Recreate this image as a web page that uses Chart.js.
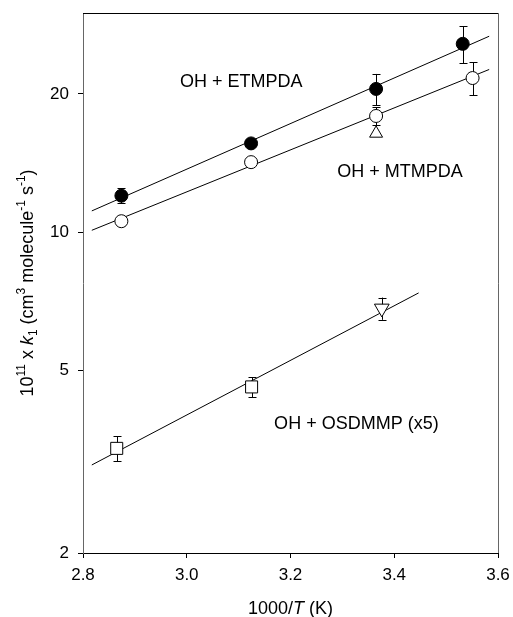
<!DOCTYPE html>
<html>
<head>
<meta charset="utf-8">
<script src="https://cdn.jsdelivr.net/npm/chart.js@4/dist/chart.umd.min.js"></script>
<style>
  html, body { margin: 0; padding: 0; background: #fff; }
  #wrap { width: 513px; height: 617px; }
</style>
</head>
<body>
<div id="wrap"><canvas id="c" width="513" height="617"></canvas></div>
<script>
// ---- Data ----
const xTicks = [2.8, 3.0, 3.2, 3.4, 3.6];
const yTicks = [2, 5, 10, 20];

// OH + ETMPDA (filled circles)
const etX = [2.874, 3.124, 3.365, 3.532];
const etY = [12.0, 15.6, 20.5, 25.7];
const etErr = [0.45, 0, 1.6, 2.4];
const etFitX = [2.817, 3.583];
const etFitY = [11.12, 26.7];

// OH + MTMPDA (open circles + open up-triangle)
const mtX = [2.874, 3.124, 3.365, 3.551];
const mtY = [10.56, 14.2, 17.9, 21.65];
const mtErr = [0, 0, 0.8, 1.8];
const mtTriX = [3.365];
const mtTriY = [16.4];
const mtFitX = [2.817, 3.583];
const mtFitY = [10.09, 22.6];

// OH + OSDMMP (x5) (open squares + open down-triangle)
const osX = [2.865, 3.125];
const osY = [3.38, 4.60];
const osErr = [0.21, 0.23];
const osTriX = [3.376];
const osTriY = [6.82];
const osTriErr = [0.38];
const osFitX = [2.817, 3.447];
const osFitY = [3.11, 7.37];

// Labels
const labelTexts = ['OH + ETMPDA', 'OH + MTMPDA', 'OH + OSDMMP (x5)'];
const labelX = [3.105, 3.411, 3.327];
const labelY = [21.2, 13.5, 3.82];

// ---- helpers ----
const FONT = '"Liberation Sans", Arial, Helvetica, sans-serif';
const pts = (xs, ys) => xs.map((x, i) => ({ x: x, y: ys[i] }));

const errorBars = [
  { xs: etX, ys: etY, err: etErr },
  { xs: mtX, ys: mtY, err: mtErr },
  { xs: osX, ys: osY, err: osErr },
  { xs: osTriX, ys: osTriY, err: osTriErr }
];

const errorBarPlugin = {
  id: 'errorBars',
  beforeDatasetsDraw(chart) {
    const { ctx, scales: { x, y } } = chart;
    ctx.save();
    ctx.strokeStyle = '#000';
    ctx.lineWidth = 1;
    errorBars.forEach(g => {
      g.xs.forEach((xv, i) => {
        const e = g.err[i];
        if (!e) return;
        const px = Math.round(x.getPixelForValue(xv)) + 0.5;
        const top = y.getPixelForValue(g.ys[i] + e);
        const bot = y.getPixelForValue(g.ys[i] - e);
        ctx.beginPath();
        ctx.moveTo(px, top); ctx.lineTo(px, bot);
        ctx.moveTo(px - 4, Math.round(top) + 0.5); ctx.lineTo(px + 4, Math.round(top) + 0.5);
        ctx.moveTo(px - 4, Math.round(bot) + 0.5); ctx.lineTo(px + 4, Math.round(bot) + 0.5);
        ctx.stroke();
      });
    });
    ctx.restore();
  }
};

function drawRich(ctx, segs, size) {
  let total = 0;
  segs.forEach(s => {
    const fs = (s.sup || s.sub) ? Math.round(size * 0.68) : size;
    ctx.font = (s.it ? 'italic ' : '') + fs + 'px ' + FONT;
    s._w = ctx.measureText(s.t).width;
    s._f = ctx.font;
    total += s._w;
  });
  let cx = -total / 2;
  segs.forEach(s => {
    ctx.font = s._f;
    let dy = 0;
    if (s.sup) dy = -size * 0.42;
    if (s.sub) dy = size * 0.22;
    ctx.fillText(s.t, cx, dy);
    cx += s._w;
  });
}

const annotPlugin = {
  id: 'annot',
  afterDraw(chart) {
    const { ctx, chartArea: a, scales: { x, y } } = chart;
    ctx.save();
    ctx.lineWidth = 1;
    ctx.strokeStyle = '#000';
    ctx.beginPath();
    ctx.moveTo(a.left, Math.round(a.top) + 0.5);
    ctx.lineTo(Math.round(a.right) + 0.5, Math.round(a.top) + 0.5);
    ctx.stroke();
    ctx.strokeStyle = '#666';
    ctx.beginPath();
    ctx.moveTo(Math.round(a.right) + 0.5, Math.round(a.top) + 0.5);
    ctx.lineTo(Math.round(a.right) + 0.5, a.bottom);
    ctx.stroke();

    ctx.fillStyle = '#000';
    ctx.font = '18px ' + FONT;
    ctx.textAlign = 'center';
    ctx.textBaseline = 'middle';
    labelTexts.forEach((t, i) => {
      ctx.fillText(t, x.getPixelForValue(labelX[i]), y.getPixelForValue(labelY[i]));
    });

    ctx.textAlign = 'left';
    ctx.textBaseline = 'alphabetic';
    ctx.save();
    ctx.translate((a.left + a.right) / 2, 614);
    drawRich(ctx, [{ t: '1000/' }, { t: 'T', it: true }, { t: ' (K)' }], 18);
    ctx.restore();

    ctx.save();
    ctx.translate(33, (a.top + a.bottom) / 2);
    ctx.rotate(-Math.PI / 2);
    drawRich(ctx, [
      { t: '10' }, { t: '11', sup: true }, { t: ' x ' }, { t: 'k', it: true }, { t: '1', sub: true },
      { t: ' (cm' }, { t: '3', sup: true }, { t: ' molecule' }, { t: '-1', sup: true },
      { t: ' s' }, { t: '-1', sup: true }, { t: ')' }
    ], 18);
    ctx.restore();
    ctx.restore();
  }
};

const lineDs = (xs, ys) => ({
  data: pts(xs, ys), showLine: true, borderColor: '#000', borderWidth: 1,
  pointRadius: 0, fill: false, order: 5
});

new Chart(document.getElementById('c'), {
  type: 'scatter',
  data: {
    datasets: [
      { data: pts(etX, etY), pointStyle: 'circle', pointRadius: 6.5, backgroundColor: '#000', borderColor: '#000', borderWidth: 1, order: 1 },
      { data: pts(mtX, mtY), pointStyle: 'circle', pointRadius: 6.5, backgroundColor: '#fff', borderColor: '#000', borderWidth: 1, order: 1 },
      { data: pts(mtTriX, mtTriY), pointStyle: 'triangle', pointRadius: 7.5, backgroundColor: '#fff', borderColor: '#000', borderWidth: 1, order: 2 },
      { data: pts(osX, osY), pointStyle: 'rect', pointRadius: 8.5, backgroundColor: '#fff', borderColor: '#000', borderWidth: 1, order: 1 },
      { data: pts(osTriX, osTriY), pointStyle: 'triangle', rotation: 180, pointRadius: 8.5, backgroundColor: '#fff', borderColor: '#000', borderWidth: 1, order: 1 },
      lineDs(etFitX, etFitY),
      lineDs(mtFitX, mtFitY),
      lineDs(osFitX, osFitY)
    ]
  },
  options: {
    responsive: false,
    animation: false,
    events: [],
    layout: { padding: { left: 0, top: 13, right: 15, bottom: 0 } },
    plugins: { legend: { display: false }, tooltip: { enabled: false }, title: { display: false } },
    scales: {
      x: {
        type: 'linear', min: 2.8, max: 3.6,
        afterBuildTicks: s => { s.ticks = xTicks.map(v => ({ value: v })); },
        afterFit: s => { s.height = 64; s.paddingLeft = 0; s.paddingRight = 0; },
        ticks: { callback: v => v.toFixed(1), color: '#000', font: { family: FONT, size: 17 }, padding: 7, maxRotation: 0 },
        grid: { drawOnChartArea: false, drawTicks: true, tickLength: 5, color: '#000' },
        border: { color: '#000', width: 1 }
      },
      y: {
        type: 'logarithmic', min: 2, max: 30,
        afterBuildTicks: s => { s.ticks = yTicks.map(v => ({ value: v })); },
        afterFit: s => { s.width = 83; s.paddingTop = 0; s.paddingBottom = 0; },
        ticks: { callback: v => String(v), color: '#000', font: { family: FONT, size: 17 }, padding: 9 },
        grid: { drawOnChartArea: false, drawTicks: true, tickLength: 5, color: '#000' },
        border: { color: '#666', width: 1 }
      }
    }
  },
  plugins: [errorBarPlugin, annotPlugin]
});
</script>
</body>
</html>
